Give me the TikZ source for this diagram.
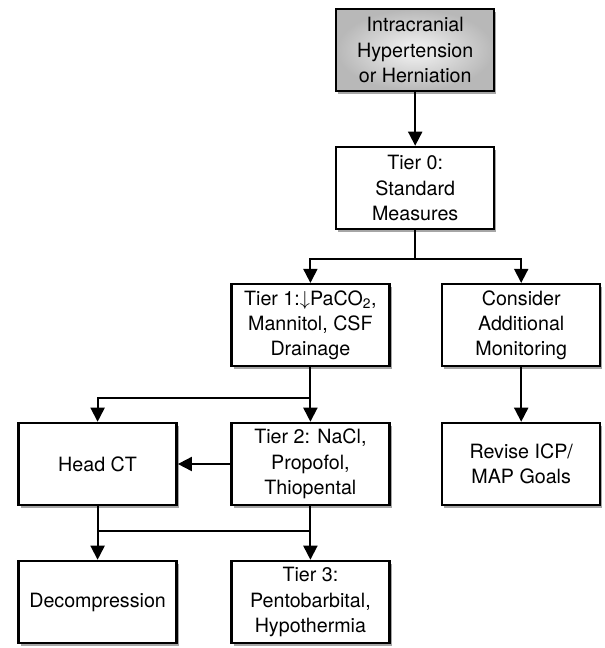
\documentclass[tikz,border=0pt]{standalone}
\usepackage{fontspec}
\setmainfont{TeX Gyre Heros}
\usepackage{tikz}
\usetikzlibrary{shadows,arrows.meta}
\definecolor{boxgray}{rgb}{0.72,0.72,0.72}

\begin{document}
\begin{tikzpicture}[
    box/.style={draw, line width=1.8pt, fill=white, align=center,
      minimum width=3.95cm, minimum height=2.05cm, inner sep=2pt,
      font=\fontsize{14}{18}\selectfont,
      drop shadow={shadow xshift=1.5pt, shadow yshift=-2pt, opacity=0.35, fill=black}},
    arr/.style={line width=1.3pt, -{Triangle[length=10pt, width=10pt]}},
    link/.style={line width=1.3pt}]
    \useasboundingbox (0,0) rectangle (15.1,-16.2);
    \def\colL{2.44}
    \def\colM{7.76}
    \def\colR{13.03}
    \def\colT{10.38}
    % boxes
    \node[box, inner color=gray!8, outer color=boxgray] (start) at (\colT,-1.25)
      {Intracranial\\Hypertension\\or Herniation};
    \node[box] (tier0) at (\colT,-4.7) {Tier 0:\\Standard\\Measures};
    \node[box] (tier1) at (\colM,-8.13) {Tier 1:$\downarrow$PaCO\textsubscript{2},\\Mannitol, CSF\\Drainage};
    \node[box] (monitor) at (\colR,-8.13) {Consider\\Additional\\Monitoring};
    \node[box] (headct) at (\colL,-11.6) {Head CT};
    \node[box] (tier2) at (\colM,-11.6) {Tier 2: NaCl,\\Propofol,\\Thiopental};
    \node[box] (goals) at (\colR,-11.6) {Revise ICP/\\MAP Goals};
    \node[box] (decomp) at (\colL,-15.05) {Decompression};
    \node[box] (tier3) at (\colM,-15.05) {Tier 3:\\Pentobarbital,\\Hypothermia};
    % junctions
    \coordinate (j0) at (\colT,-6.48);
    \coordinate (j1) at (\colM,-9.95);
    \coordinate (j2) at (\colL,-13.28);
    % connectors
    \draw[arr] (start) -- (tier0);
    \draw[link] (tier0) -- (j0);
    \draw[arr] (j0) -| (tier1);
    \draw[arr] (j0) -| (monitor);
    \draw[arr] (monitor) -- (goals);
    \draw[arr] (tier1) -- (tier2);
    \draw[arr] (j1) -| (headct);
    \draw[arr] (tier2) -- (headct);
    \draw[arr] (headct) -- (decomp);
    \draw[arr] (tier2) -- (tier3);
    \draw[link] (j2) -- (tier2.south |- j2);
  \end{tikzpicture}
\end{document}
